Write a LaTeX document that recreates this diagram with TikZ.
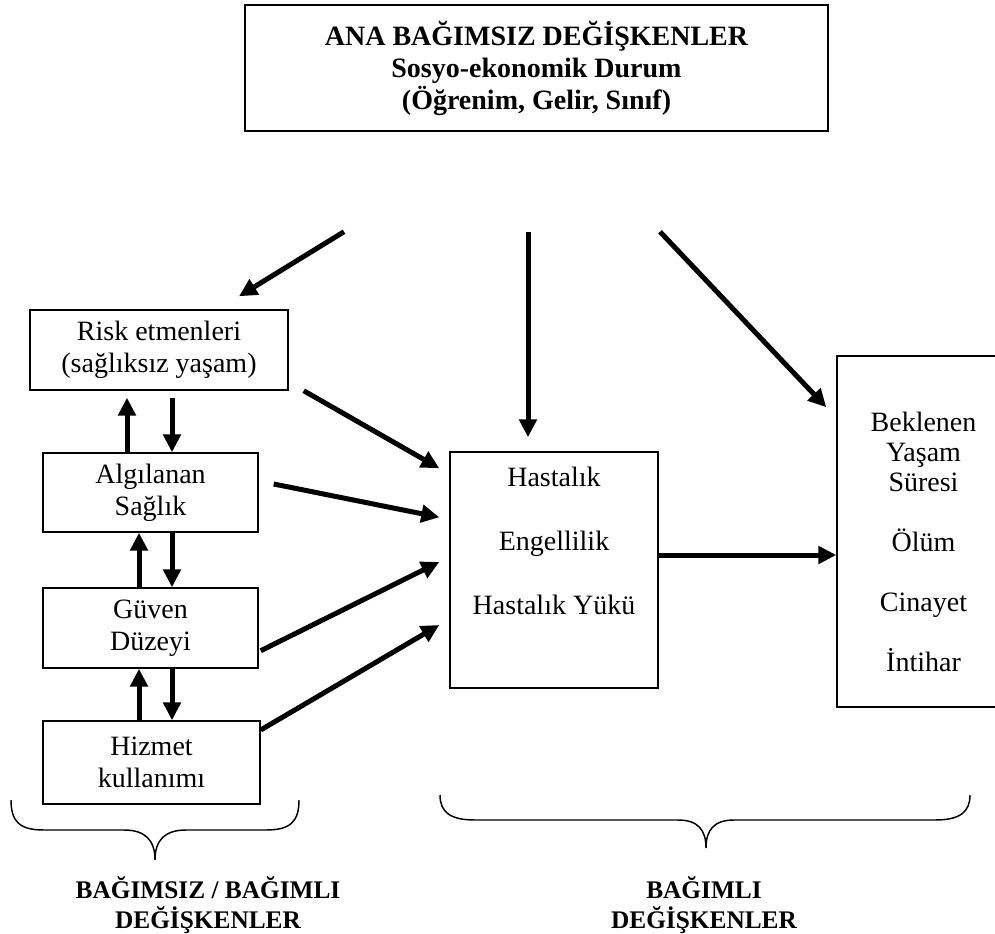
\documentclass[tikz,border=0pt]{standalone}
\usepackage{fontspec}
\setmainfont{Liberation Serif}
\usetikzlibrary{arrows.meta, positioning}

\begin{document}
\begin{tikzpicture}
        [x=0.75pt, y=-0.75pt,
        block/.style ={rectangle, draw, line width=1.1pt, align=center,
        inner sep=0pt, font=\fontsize{21}{24}\selectfont},
        headbox/.style ={block, font=\fontsize{21}{24}\bfseries},
        line/.style ={draw, line width=3.75pt, -{Triangle[length=13.5pt,width=13pt]}},
        bracket/.style ={draw, line width=1.1pt},
        caption/.style ={align=center, font=\fontsize{19}{22.5}\bfseries}]
        \useasboundingbox (0,0) rectangle (995,934);
        \clip (0,0) rectangle (995,934);
        % main variable
        \node [headbox, minimum width=437.25pt, minimum height=94.5pt] (main) at (536.5,68)
            {ANA BAĞIMSIZ DEĞİŞKENLER\\Sosyo-ekonomik Durum\\(Öğrenim, Gelir, Sınıf)};
        % left column
        \node [block, minimum width=193.5pt, minimum height=60pt] (risk) at (159,350)
            {Risk etmenleri\\(sağlıksız yaşam)};
        \node [block, minimum width=161.25pt, minimum height=59.25pt] (health) at (150.5,492.5)
            {Algılanan\\Sağlık};
        \node [block, minimum width=161.25pt, minimum height=60pt] (trust) at (150.5,628)
            {Güven\\Düzeyi};
        \node [block, minimum width=162.75pt, minimum height=62.25pt] (service) at (151.5,762.5)
            {Hizmet\\kullanımı};
        % dependent ones
        \node [block] (illness) at (554,570)
            {\parbox[c][177pt][t]{156pt}{\centering\vspace{11pt}%
            Hastalık\\[24pt]Engellilik\\[24pt]Hastalık Yükü}};
        \node [block] (outcome) at (923.5,531.5)
            {\parbox[c][263.25pt][t]{129.75pt}{\centering\fontsize{21}{22.5}\selectfont\vspace{42pt}%
            Beklenen\\Yaşam\\Süresi\\[22.5pt]Ölüm\\[22.5pt]Cinayet\\[22.5pt]İntihar}};
        \begin{scope}[every path/.style=line]
            \path ([shift={(-192.5,100)}]main.south) -- ([shift={(80,-13)}]risk.north);
            \path ([shift={(-8.5,100)}]main.south) -- ([shift={(-26,-14)}]illness.north);
            \path ([shift={(123.5,100)}]main.south) -- ([shift={(-10,52)}]outcome.north west);
            \path ([shift={(-23.5,0)}]health.north) -- ([shift={(-32,7)}]risk.south);
            \path ([shift={(13,7)}]risk.south) -- ([shift={(21.5,0)}]health.north);
            \path ([shift={(-11.5,0)}]trust.north) -- ([shift={(-11.5,0)}]health.south);
            \path ([shift={(21.5,0)}]health.south) -- ([shift={(21.5,0)}]trust.north);
            \path ([shift={(-12.5,0)}]service.north) -- ([shift={(-11.5,0)}]trust.south);
            \path ([shift={(21.5,0)}]trust.south) -- ([shift={(20.5,0)}]service.north);
            \path ([shift={(15,0)}]risk.south east) -- ([shift={(-10,17)}]illness.north west);
            \path ([shift={(15,-8.5)}]health.east) -- ([shift={(-10,66)}]illness.north west);
            \path ([shift={(2,-18)}]trust.south east) -- ([shift={(-10,-8)}]illness.west);
            \path ([shift={(0,-32.5)}]service.east) -- ([shift={(-10,55)}]illness.west);
            \path ([shift={(0,-15)}]illness.east) -- ([shift={(0,23.5)}]outcome.west);
        \end{scope}
        % braces
        \path [bracket] (11,800) .. controls (11,822) and (20,830) .. (44,830) -- (124,830)
            .. controls (145,830) and (155,840) .. (155,860)
            .. controls (155,840) and (165,830) .. (186,830) -- (266,830)
            .. controls (290,830) and (299,822) .. (299,800);
        \path [bracket] (440,795) .. controls (440,812) and (450,820) .. (475,820) -- (678,820)
            .. controls (698,820) and (706,830) .. (706,848)
            .. controls (706,830) and (714,820) .. (734,820) -- (935,820)
            .. controls (960,820) and (970,812) .. (970,795);
        \node [caption] (mixedlbl) at (208,905) {BAĞIMSIZ / BAĞIMLI\\DEĞİŞKENLER};
        \node [caption] (deplbl) at (704,905) {BAĞIMLI\\DEĞİŞKENLER};
\end{tikzpicture}
\end{document}
